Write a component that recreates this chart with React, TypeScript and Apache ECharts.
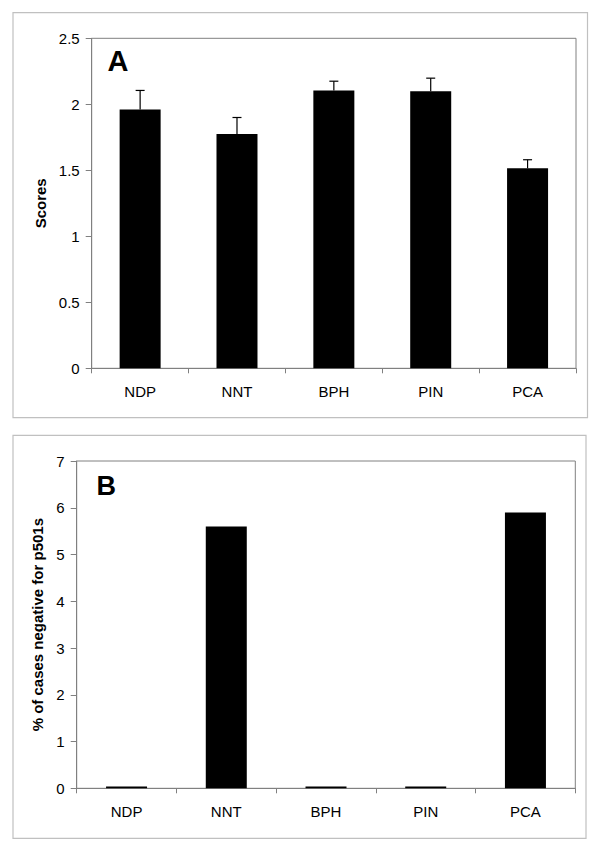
import React, { useEffect, useRef } from "react";
import * as echarts from "echarts";

const categories = ["NDP", "NNT", "BPH", "PIN", "PCA"];
const scoreMeans = [1.96, 1.775, 2.105, 2.098, 1.515];
const scoreErrors = [0.145, 0.125, 0.07, 0.1, 0.065];
const negativePercent = [0.04, 5.6, 0.04, 0.04, 5.9];
const scoreTicks = [0, 0.5, 1, 1.5, 2, 2.5];
const percentTicks = [0, 1, 2, 3, 4, 5, 6, 7];

const FONT = "'Liberation Sans', Arial, sans-serif";

export default function App() {
  const ref = useRef<HTMLDivElement>(null);
  useEffect(() => {
    document.body.style.margin = "0";
    const chart = echarts.init(ref.current!, null, { renderer: "svg" });
    const errData = scoreMeans.map((m, i) => [i, m, m + scoreErrors[i]]);
    const yCommon = (name: string, gap: number, max: number, interval: number) => ({
      type: "value",
      min: 0,
      max,
      interval,
      name,
      nameLocation: "middle",
      nameGap: gap,
      nameTextStyle: { fontFamily: FONT, fontSize: 15, fontWeight: "bold", color: "#000" },
      axisLine: { show: true, lineStyle: { color: "#808080", width: 1 } },
      axisTick: { show: true, length: 6, lineStyle: { color: "#808080" } },
      axisLabel: { fontFamily: FONT, fontSize: 15, color: "#000", margin: 12 },
      splitLine: { show: false },
    });
    const xCommon = (gridIndex: number) => ({
      type: "category",
      gridIndex,
      data: categories,
      axisLine: { show: true, lineStyle: { color: "#808080", width: 1 } },
      axisTick: { show: true, length: 5, lineStyle: { color: "#808080" } },
      axisLabel: { fontFamily: FONT, fontSize: 15, color: "#000", margin: 16 },
    });
    chart.setOption({
      animation: false,
      backgroundColor: "#fff",
      grid: [
        { left: 91.7, top: 38.3, right: 24, height: 330, show: true, borderColor: "#808080", borderWidth: 1, backgroundColor: "transparent" },
        { left: 76.7, top: 461, right: 24.7, height: 327.3, show: true, borderColor: "#808080", borderWidth: 1, backgroundColor: "transparent" },
      ],
      xAxis: [xCommon(0), xCommon(1)],
      yAxis: [
        { ...yCommon("Scores", 44, scoreTicks[scoreTicks.length - 1], 0.5), gridIndex: 0 },
        { ...yCommon("% of cases negative for p501s", 31, percentTicks[percentTicks.length - 1], 1), gridIndex: 1 },
      ],
      series: [
        {
          type: "bar",
          xAxisIndex: 0,
          yAxisIndex: 0,
          data: scoreMeans,
          barWidth: 41,
          itemStyle: { color: "#000" },
        },
        {
          type: "custom",
          xAxisIndex: 0,
          yAxisIndex: 0,
          data: errData,
          z: 5,
          renderItem: (params: any, api: any) => {
            const x = api.value(0);
            const lo = api.coord([x, api.value(1)]);
            const hi = api.coord([x, api.value(2)]);
            const style = { stroke: "#000", lineWidth: 1.2 };
            return {
              type: "group",
              children: [
                { type: "line", shape: { x1: lo[0], y1: lo[1], x2: hi[0], y2: hi[1] }, style },
                { type: "line", shape: { x1: hi[0] - 4.5, y1: hi[1], x2: hi[0] + 4.5, y2: hi[1] }, style },
              ],
            };
          },
        },
        {
          type: "bar",
          xAxisIndex: 1,
          yAxisIndex: 1,
          data: negativePercent,
          barWidth: 41,
          itemStyle: { color: "#000" },
        },
      ],
      graphic: [
        { type: "rect", shape: { x: 13, y: 12.7, width: 574.5, height: 405 }, style: { fill: "none", stroke: "#c0c0c0", lineWidth: 1.2 }, silent: true },
        { type: "rect", shape: { x: 13, y: 435.3, width: 573, height: 403 }, style: { fill: "none", stroke: "#c0c0c0", lineWidth: 1.2 }, silent: true },
        { type: "text", x: 107.5, y: 46, style: { text: "A", fontFamily: FONT, fontSize: 29, fontWeight: "bold", fill: "#000" } },
        { type: "text", x: 96.5, y: 472, style: { text: "B", fontFamily: FONT, fontSize: 27, fontWeight: "bold", fill: "#000" } },
      ],
    });
    return () => chart.dispose();
  }, []);
  return <div ref={ref} style={{ width: 600, height: 854 }} />;
}
